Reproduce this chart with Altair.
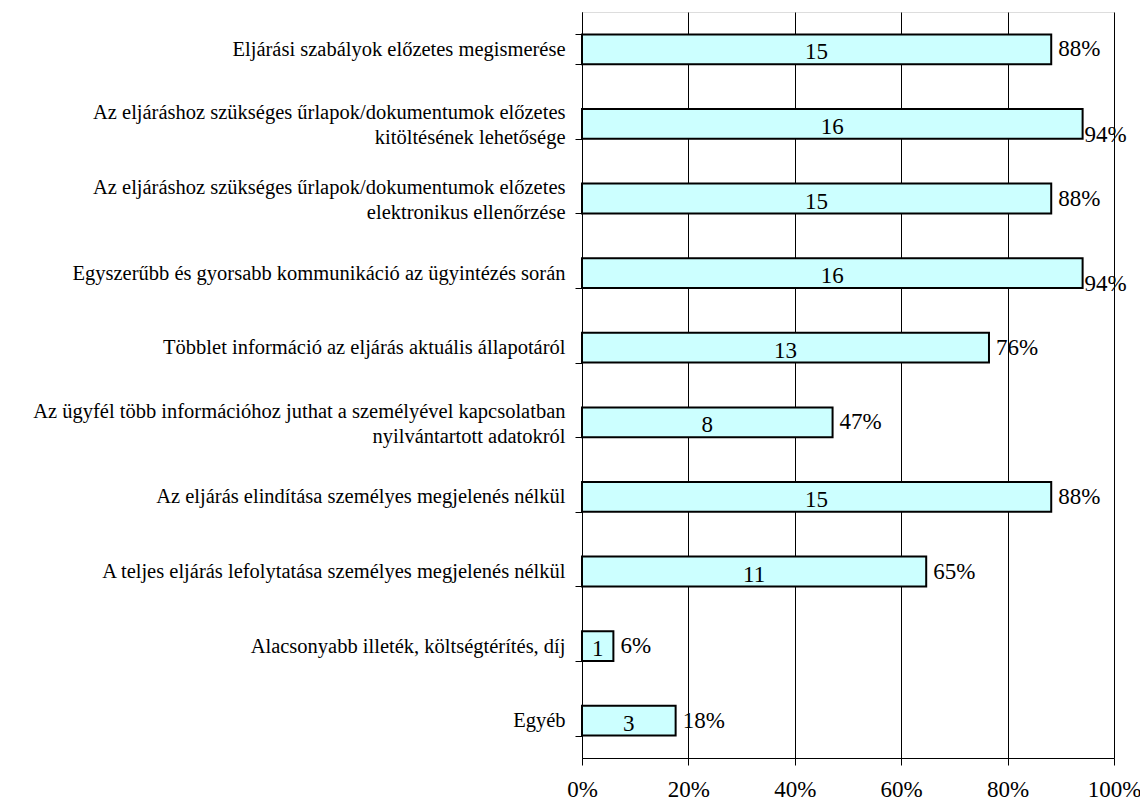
import altair as alt
import pandas as pd

categories = [
    "Eljárási szabályok előzetes megismerése",
    "Az eljáráshoz szükséges űrlapok/dokumentumok előzetes|kitöltésének lehetősége",
    "Az eljáráshoz szükséges űrlapok/dokumentumok előzetes|elektronikus ellenőrzése",
    "Egyszerűbb és gyorsabb kommunikáció az ügyintézés során",
    "Többlet információ az eljárás aktuális állapotáról",
    "Az ügyfél több információhoz juthat a személyével kapcsolatban|nyilvántartott adatokról",
    "Az eljárás elindítása személyes megjelenés nélkül",
    "A teljes eljárás lefolytatása személyes megjelenés nélkül",
    "Alacsonyabb illeték, költségtérítés, díj",
    "Egyéb",
]
counts = [15, 16, 15, 16, 13, 8, 15, 11, 1, 3]
shares = [0.882, 0.941, 0.882, 0.941, 0.765, 0.471, 0.882, 0.647, 0.059, 0.176]
pct_labels = ["88%", "94%", "88%", "94%", "76%", "47%", "88%", "65%", "6%", "18%"]
x_ticks = [0, 0.2, 0.4, 0.6, 0.8, 1.0]

df = pd.DataFrame({"cat": categories, "count": counts, "share": shares, "pct": pct_labels})

FONT = "Liberation Serif"

y_enc = alt.Y(
    "cat:N",
    sort=categories,
    scale=alt.Scale(paddingInner=0.6, paddingOuter=0.3),
    axis=alt.Axis(
        title=None,
        labelExpr="split(datum.label, '|')",
        labelOffset={
            "condition": {"test": "indexof(datum.label, '|') >= 0", "value": -11},
            "value": 0,
        },
        tickBand="extent",
        ticks=True,
        tickSize=7,
        tickColor="black",
        domainColor="black",
        labelPadding=10,
        labelFont=FONT,
        labelFontSize=20.5,
        labelColor="black",
        labelLimit=700,
        labelLineHeight=25,
        grid=False,
    ),
)

x_enc = alt.X(
    "share:Q",
    scale=alt.Scale(domain=[0, 1], nice=False),
    axis=alt.Axis(
        title=None,
        values=x_ticks,
        format=".0%",
        grid=True,
        gridColor="black",
        gridOpacity=1,
        gridWidth=1,
        tickSize=7,
        tickColor="black",
        domainColor="black",
        labelFont=FONT,
        labelFontSize=23,
        labelColor="black",
        labelPadding=13,
        labelFlush=False,
    ),
)

y_plain = alt.Y("cat:N", sort=categories)
base = alt.Chart(df)

bars = base.mark_bar(fill="#CCFFFF", stroke="black", strokeWidth=2).encode(x=x_enc, y=y_enc)

count_text = base.transform_calculate(mid="datum.share / 2").mark_text(
    font=FONT, fontSize=23, color="black", align="center", baseline="middle", dy=3
).encode(x="mid:Q", y=y_plain, text="count:Q")

# labels that would collide with the 100% gridline sit lower, as in the original
pct_text = base.transform_filter("datum.share < 0.93").mark_text(
    font=FONT, fontSize=23, color="black", align="left", baseline="middle", dx=7
).encode(x="share:Q", y=y_plain, text="pct:N")

pct_text_low = base.transform_filter("datum.share >= 0.93").mark_text(
    font=FONT, fontSize=23, color="black", align="left", baseline="middle", dx=2, dy=11
).encode(x="share:Q", y=y_plain, text="pct:N")

chart = (
    alt.layer(bars, count_text, pct_text, pct_text_low)
    .properties(
        width=532,
        height=746,
        autosize=alt.AutoSizeParams(type="none"),
        padding={"left": 574, "top": 4, "right": 26, "bottom": 46},
    )
    .configure_view(stroke=None)
    .configure(background="white")
)

chart.save("out.html", embed_options={"renderer": "svg", "actions": False})
